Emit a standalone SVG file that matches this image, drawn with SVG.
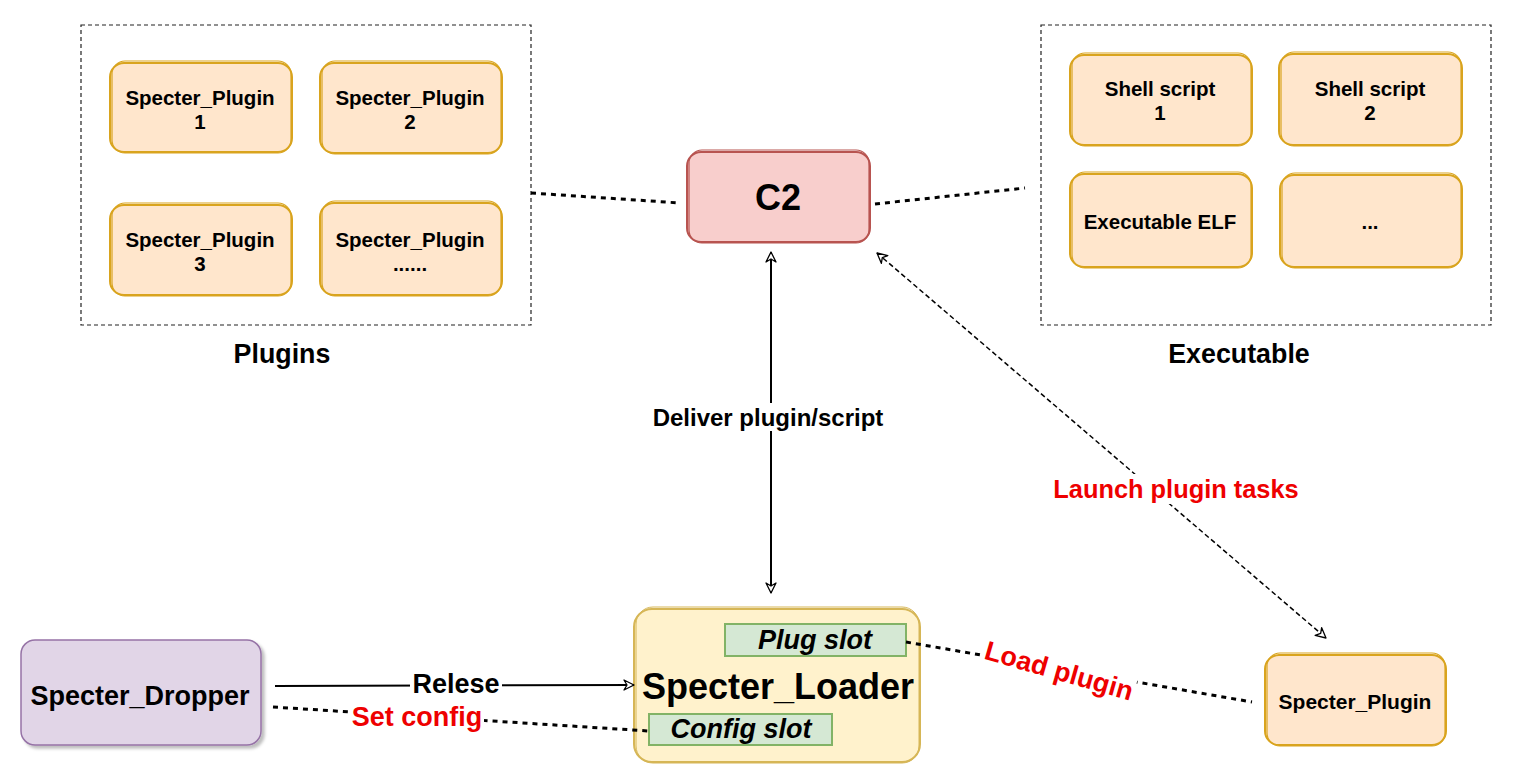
<svg xmlns="http://www.w3.org/2000/svg" width="1513" height="783" viewBox="0 0 1513 783">
<defs>
<style>
.t{font-family:"Liberation Sans",Arial,sans-serif;font-weight:bold;text-anchor:middle;dominant-baseline:central;fill:#000}
.red{fill:#ee0000}
.orange{fill:#ffe6cc;stroke:#d9a41e;stroke-width:2}
.orange2{fill:none;stroke:#d9a41e;stroke-width:1.2}
.group{fill:none;stroke:#222;stroke-width:1.2;stroke-dasharray:4 3}
.dot{fill:none;stroke:#000;stroke-width:3;stroke-dasharray:5 5}
.dash{fill:none;stroke:#000;stroke-width:1.5;stroke-dasharray:5 3}
.solid{fill:none;stroke:#000;stroke-width:2}
.bx{font-size:20.5px}
</style>
<marker id="open" viewBox="0 0 12 12" refX="11" refY="6" markerWidth="12" markerHeight="12" markerUnits="userSpaceOnUse" orient="auto-start-reverse">
<path d="M1,1 L11,6 L1,11 L4,6 Z" fill="#fff" stroke="#000" stroke-width="1.3" stroke-linejoin="round"/>
</marker>
<filter id="sh" x="-10%" y="-10%" width="130%" height="130%">
<feDropShadow dx="3" dy="3" stdDeviation="1.5" flood-color="#000" flood-opacity="0.25"/>
</filter>
</defs>
<rect width="1513" height="783" fill="#fff"/>

<g id="plugins-group">
<rect class="group" x="81" y="25" width="450" height="300"/>
<text class="t" x="282" y="354" font-size="26.8">Plugins</text>
</g>
<g id="plugin1">
<rect class="orange" x="110" y="63" width="182" height="89" rx="14"/>
<rect class="orange2" x="112" y="61" width="179" height="92" rx="13"/>
<text class="t bx" x="200" y="97">Specter_Plugin</text>
<text class="t bx" x="200" y="121">1</text>
</g>
<g id="plugin2">
<rect class="orange" x="320" y="63" width="182" height="90" rx="14"/>
<rect class="orange2" x="322" y="61" width="179" height="93" rx="13"/>
<text class="t bx" x="410" y="97">Specter_Plugin</text>
<text class="t bx" x="410" y="121">2</text>
</g>
<g id="plugin3">
<rect class="orange" x="110" y="205" width="182" height="90" rx="14"/>
<rect class="orange2" x="112" y="203" width="179" height="93" rx="13"/>
<text class="t bx" x="200" y="239">Specter_Plugin</text>
<text class="t bx" x="200" y="263">3</text>
</g>
<g id="plugin4">
<rect class="orange" x="320" y="203" width="182" height="92" rx="14"/>
<rect class="orange2" x="322" y="201" width="179" height="95" rx="13"/>
<text class="t bx" x="410" y="239">Specter_Plugin</text>
<text class="t bx" x="410" y="263">......</text>
</g>

<g id="c2">
<rect x="687" y="152" width="183" height="90" rx="14" fill="#f8cecc" stroke="#b85450" stroke-width="2"/>
<rect x="689" y="150" width="180" height="93" rx="13" fill="none" stroke="#b85450" stroke-width="1.2"/>
<text class="t" x="778" y="197" font-size="36">C2</text>
</g>

<g id="executable-group">
<rect class="group" x="1041" y="25" width="450" height="300"/>
<text class="t" x="1239" y="354" font-size="26.8">Executable</text>
</g>
<g id="shell1">
<rect class="orange" x="1070" y="55" width="182" height="90" rx="14"/>
<rect class="orange2" x="1072" y="53" width="179" height="93" rx="13"/>
<text class="t bx" x="1160" y="88">Shell script</text>
<text class="t bx" x="1160" y="112">1</text>
</g>
<g id="shell2">
<rect class="orange" x="1279" y="54" width="183" height="91" rx="14"/>
<rect class="orange2" x="1281" y="52" width="180" height="94" rx="13"/>
<text class="t bx" x="1370" y="88">Shell script</text>
<text class="t bx" x="1370" y="112">2</text>
</g>
<g id="elf">
<rect class="orange" x="1070" y="174" width="182" height="93" rx="14"/>
<rect class="orange2" x="1072" y="172" width="179" height="96" rx="13"/>
<text class="t bx" x="1160" y="221">Executable ELF</text>
</g>
<g id="more">
<rect class="orange" x="1280" y="175" width="182" height="92" rx="14"/>
<rect class="orange2" x="1282" y="173" width="179" height="95" rx="13"/>
<text class="t bx" x="1370" y="221">...</text>
</g>

<g id="dropper">
<rect x="21" y="640" width="240" height="105" rx="14" fill="#e1d5e7" stroke="#9673a6" stroke-width="1.5" filter="url(#sh)"/>
<text class="t" x="140" y="696" font-size="27">Specter_Dropper</text>
</g>

<g id="loader">
<rect x="634" y="609" width="286" height="153" rx="18" fill="#fff2cc" stroke="#d6b656" stroke-width="2"/>
<rect x="636" y="607" width="283" height="156" rx="17" fill="none" stroke="#d6b656" stroke-width="1"/>
<text class="t" x="778" y="686" font-size="36">Specter_Loader</text>
<g id="plug-slot">
<rect x="725" y="624" width="181" height="32" fill="#d5e8d4" stroke="#82b366" stroke-width="2"/>
<text class="t" x="815" y="640" font-size="27" font-style="italic">Plug slot</text>
</g>
<g id="config-slot">
<rect x="649" y="714" width="183" height="31" fill="#d5e8d4" stroke="#82b366" stroke-width="2"/>
<text class="t" x="741" y="729" font-size="27" font-style="italic">Config slot</text>
</g>
</g>

<g id="plugin-target">
<rect class="orange" x="1265" y="655" width="181" height="90" rx="14"/>
<rect class="orange2" x="1267" y="653" width="178" height="93" rx="13"/>
<text class="t" x="1355" y="701" font-size="21">Specter_Plugin</text>
</g>

<g id="connectors">
<path class="dot" d="M531,193 L680,203"/>
<path class="dot" d="M875,204 L1025,188"/>
<path class="solid" d="M771,252 L771,593" marker-start="url(#open)" marker-end="url(#open)"/>
<path class="dash" d="M877,253 L1326,638" marker-start="url(#open)" marker-end="url(#open)"/>
<path class="solid" d="M275,686 L634,685" marker-end="url(#open)"/>
<path class="dot" d="M273,707 L649,731"/>
<path class="dot" d="M906,642 L1252,702"/>
<rect x="650" y="403" width="238" height="28" fill="#fff"/>
<text class="t" x="768" y="417" font-size="24">Deliver plugin/script</text>
<rect x="1050" y="474" width="252" height="30" fill="#fff"/>
<text class="t red" x="1176" y="489" font-size="25.4">Launch plugin tasks</text>
<rect x="410" y="670" width="92" height="28" fill="#fff"/>
<text class="t" x="456" y="684" font-size="27">Relese</text>
<rect x="350" y="703" width="134" height="28" fill="#fff"/>
<text class="t red" x="417" y="717" font-size="27">Set config</text>
<g transform="translate(1059,671) rotate(16)">
<rect x="-78" y="-16" width="156" height="32" fill="#fff"/>
<text class="t red" x="0" y="0" font-size="27">Load plugin</text>
</g>
</g>
</svg>
